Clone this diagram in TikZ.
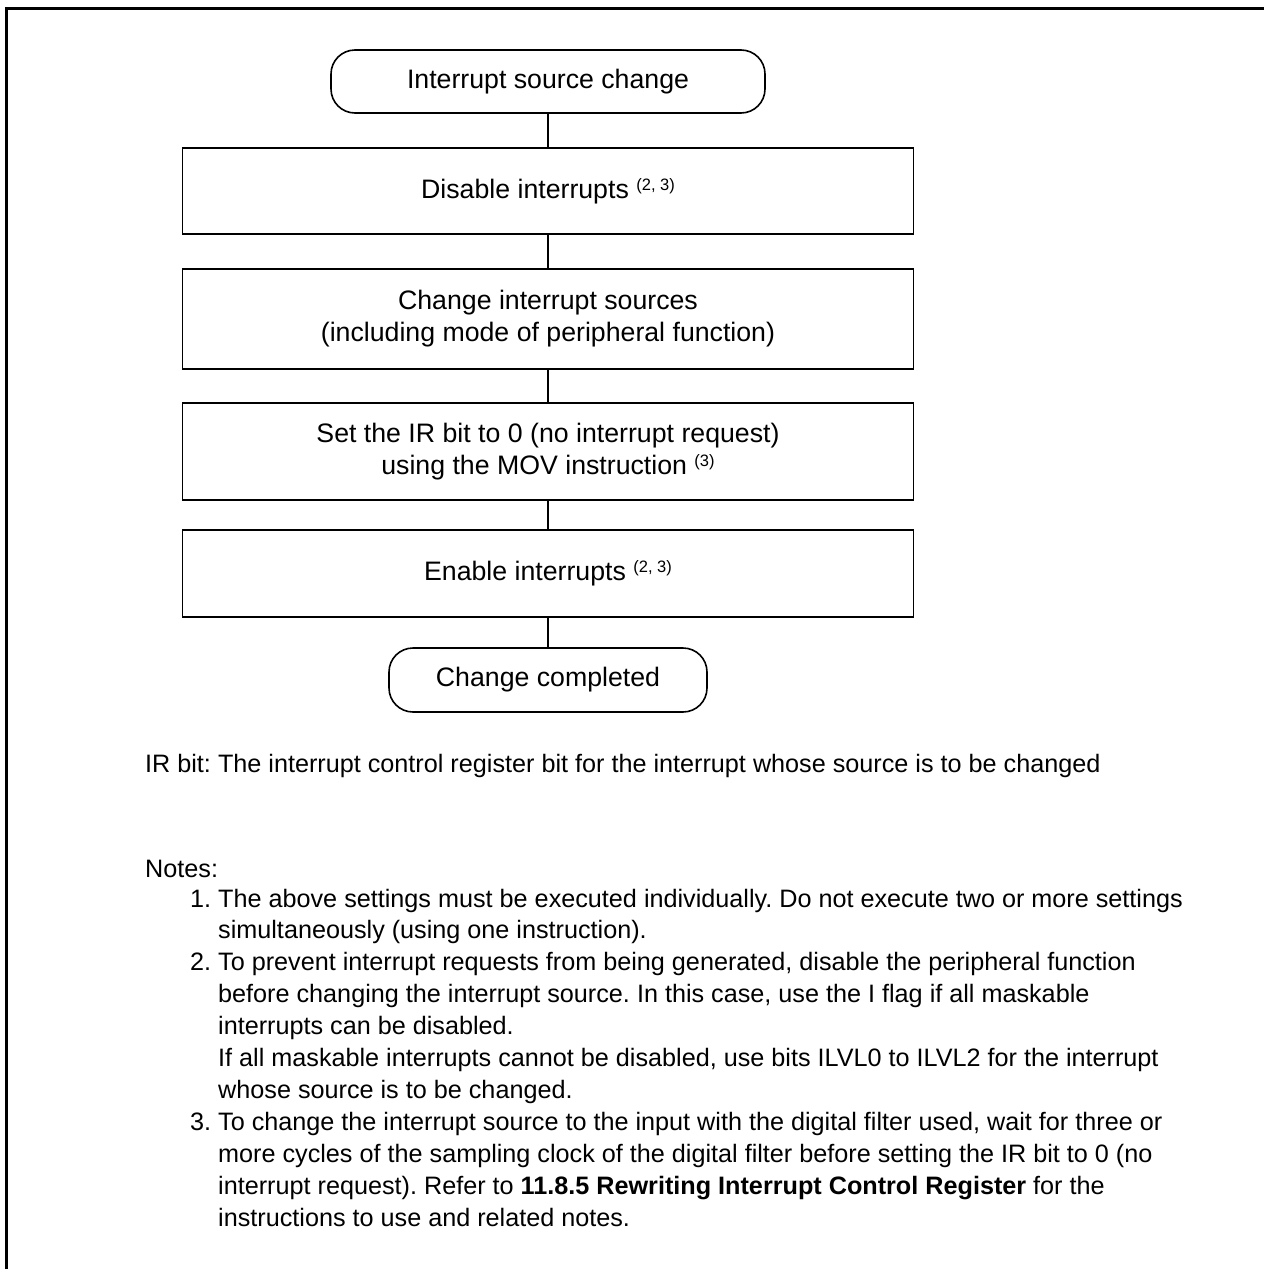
\documentclass[tikz,border=0pt]{standalone}
\usepackage{fontspec}
\setmainfont{Liberation Sans}
\frenchspacing
\newcommand\supnote[1]{\raisebox{8pt}{\fontsize{16.5}{16.5}\selectfont(#1)}}
\begin{document}
\frenchspacing
\begin{tikzpicture}[x=1pt,y=-1pt,
  box/.style={draw, line width=1.8pt, minimum width=731pt, inner sep=0pt, align=center, font=\fontsize{26.7}{32}\selectfont},
  term/.style={draw, line width=1.6pt, rounded corners=24pt, inner sep=0pt, align=center, font=\fontsize{26.7}{32}\selectfont},
  link/.style={line width=1.4pt},
  txt/.style={anchor=base west, inner sep=0pt, align=left, font=\fontsize{25.2}{31.9}\selectfont\frenchspacing}]
\useasboundingbox (0,0) rectangle (1264,1269);
\draw[line width=3pt] (6.5,1269) -- (6.5,8.5) -- (1264,8.5);

\node[term, minimum width=434pt, minimum height=63pt] (t1) at (548,81.5) {Interrupt source change};
\node[box, minimum height=86pt] (b1) at (548,191) {Disable interrupts \supnote{2, 3}};
\node[box, minimum height=100pt] (b2) at (548,319) {Change interrupt sources\\(including mode of peripheral function)};
\node[box, minimum height=97pt] (b3) at (548,451.5) {Set the IR bit to 0 (no interrupt request)\\using the MOV instruction \supnote{3}};
\node[box, minimum height=87pt] (b4) at (548,573.5) {Enable interrupts \supnote{2, 3}};
\node[term, minimum width=318pt, minimum height=64pt] (t2) at (548,680) {Change completed};

\draw[link] (t1.south) -- (b1.north);
\draw[link] (b1.south) -- (b2.north);
\draw[link] (b2.south) -- (b3.north);
\draw[link] (b3.south) -- (b4.north);
\draw[link] (b4.south) -- (t2.north);

\node[txt] (irbit) at (145,772) {IR bit: The interrupt control register bit for the interrupt whose source is to be changed};
\node[txt] (notes) at (145,877) {Notes:};
\node[txt] (n1num) at (190,907) {1.};
\node[txt] (n1) at (218,938.9) {The above settings must be executed individually. Do not execute two or more settings\\simultaneously (using one instruction).};
\node[txt] (n2num) at (190,970.8) {2.};
\node[txt] (n2) at (218,1098.4) {To prevent interrupt requests from being generated, disable the peripheral function\\before changing the interrupt source. In this case, use the I flag if all maskable\\interrupts can be disabled.\\If all maskable interrupts cannot be disabled, use bits ILVL0 to ILVL2 for the interrupt\\whose source is to be changed.};
\node[txt] (n3num) at (190,1130.3) {3.};
\node[txt] (n3) at (218,1226) {To change the interrupt source to the input with the digital filter used, wait for three or\\more cycles of the sampling clock of the digital filter before setting the IR bit to 0 (no\\interrupt request). Refer to \textbf{11.8.5 Rewriting Interrupt Control Register} for the\\instructions to use and related notes.};
\end{tikzpicture}
\end{document}
